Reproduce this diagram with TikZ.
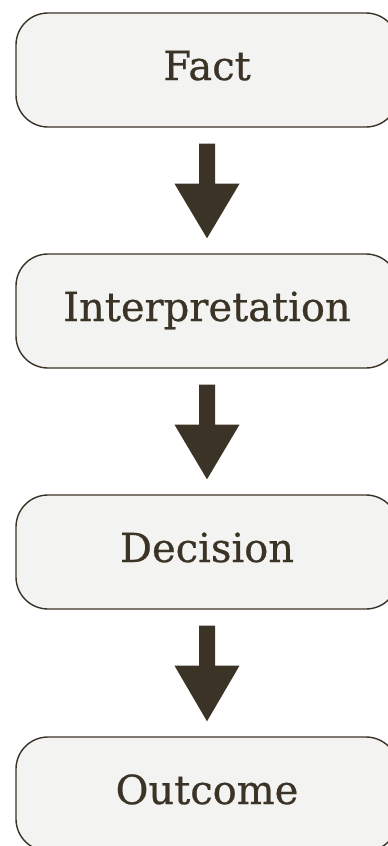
\documentclass[tikz,border=0pt]{standalone}
\usepackage{fontspec}
\setmainfont{DejaVu Serif}
\usetikzlibrary{calc}
\definecolor{ink}{HTML}{3A3326}
\definecolor{boxfill}{HTML}{F3F3F1}
\tikzset{
  stage/.style={draw=ink, line width=1.4pt, fill=boxfill, rounded corners=32pt,
    minimum width=382pt, minimum height=114pt, inner sep=0pt, text=ink,
    font=\fontsize{40}{48}\selectfont\addfontfeature{FakeBold=0.6},
    text height=30pt, text depth=10pt},
  blockarrow/.style={fill=ink, draw=none}
}
\begin{document}
\begin{tikzpicture}[x=1pt,y=-1pt]
\useasboundingbox (0,0) rectangle (388,846);
\begin{scope}
\clip (0,0) rectangle (388,846);
\node[stage] (fact) at (207,70) {Fact};
\node[stage] (interp) at (207,311) {Interpretation};
\node[stage] (dec) at (207,552) {Decision};
\node[stage] (out) at (207,794) {Outcome};
\foreach \a/\b in {fact/interp, interp/dec, dec/out}{
  \fill[blockarrow] ($(\a.south)+(-8,16)$) -- ($(\a.south)+(8,16)$)
    -- ($(\a.south)+(8,56)$) -- ($(\a.south)+(32.5,56)$)
    -- ($(\b.north)+(0,-15)$) -- ($(\a.south)+(-32.5,56)$)
    -- ($(\a.south)+(-8,56)$) -- cycle;
}
\end{scope}
\end{tikzpicture}
\end{document}
